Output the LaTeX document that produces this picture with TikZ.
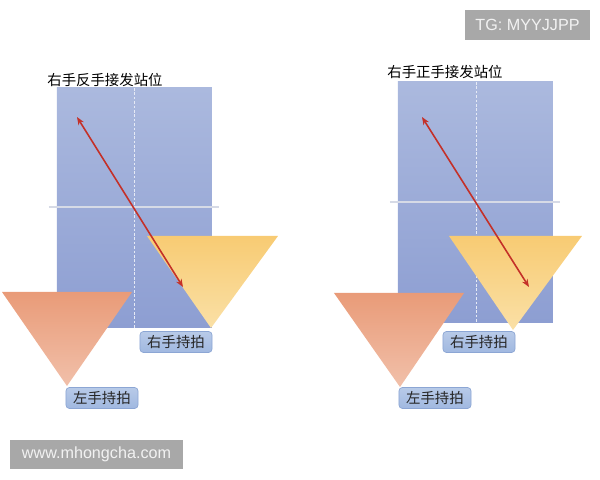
\documentclass[tikz,border=0pt]{standalone}
\usepackage{fontspec}
\setmainfont{Liberation Sans}
\newfontfamily\cjk{Noto Sans CJK SC}
\usetikzlibrary{arrows.meta}

\definecolor{tabletop}{RGB}{171,185,222}
\definecolor{tablebot}{RGB}{141,158,210}
\definecolor{nettape}{RGB}{214,218,230}
\definecolor{yeltop}{RGB}{248,203,115}
\definecolor{yelbot}{RGB}{250,224,166}
\definecolor{orgtop}{RGB}{233,155,120}
\definecolor{orgbot}{RGB}{241,192,170}
\definecolor{tagtop}{RGB}{184,202,232}
\definecolor{tagbot}{RGB}{160,184,224}
\definecolor{tagline}{RGB}{140,166,212}
\definecolor{servered}{RGB}{196,48,40}
\definecolor{markgray}{RGB}{168,168,168}

\tikzset{
  tag/.style={draw=tagline, rounded corners=2pt, top color=tagtop, bottom color=tagbot,
    minimum width=41pt, minimum height=12pt, inner sep=0pt,
    font=\cjk\fontsize{8.2}{9}\selectfont, text=black!85},
  heading/.style={anchor=west, inner sep=0pt, font=\cjk\fontsize{8.2}{9}\selectfont},
  serve/.style={servered, line width=0.9pt, {Stealth[length=4.5pt,width=3.5pt]}-{Stealth[length=4.5pt,width=3.5pt]}},
  midline/.style={white!70!tabletop, line width=0.3pt, dash pattern=on 1.5pt off 1pt},
  stamp/.style={fill=markgray, text=white!95!black, inner sep=0pt, font=\fontsize{9.2}{10}\selectfont}
}

\begin{document}
\begin{tikzpicture}[x=0.02cm,y=-0.02cm]
  \useasboundingbox (0,0) rectangle (600,480);

  % left: backhand receive
  \shade[top color=tabletop, bottom color=tablebot] (57,88) rectangle (212,328);
  \draw[midline] (134,88) -- (134,328);
  \draw[nettape, line width=1.2pt] (49,207) -- (219,207);
  \node[heading] (h1) at (47,80) {右手反手接发站位};

  \shade[top color=yeltop, bottom color=yelbot] (147,236) -- (278,236) -- (211,328) -- cycle;
  \shade[top color=orgtop, bottom color=orgbot] (2,292) -- (132,292) -- (67,386) -- cycle;

  \coordinate (a1) at (77,117);
  \coordinate (b1) at (183,287);
  \draw[serve] (a1) -- (b1);

  \node[tag] (r1) at (176,342) {右手持拍};
  \node[tag] (l1) at (102,398) {左手持拍};

  % right: forehand receive
  \shade[top color=tabletop, bottom color=tablebot] (398,82) rectangle (553,323);
  \draw[midline] (476,82) -- (476,323);
  \draw[nettape, line width=1.2pt] (390,202) -- (560,202);
  \node[heading] (h2) at (387,72) {右手正手接发站位};

  \shade[top color=yeltop, bottom color=yelbot] (449,236) -- (582,236) -- (513,330) -- cycle;
  \shade[top color=orgtop, bottom color=orgbot] (334,293) -- (464,293) -- (400,387) -- cycle;

  \coordinate (a2) at (422,117);
  \coordinate (b2) at (529,287);
  \draw[serve] (a2) -- (b2);

  \node[tag] (r2) at (479,342) {右手持拍};
  \node[tag] (l2) at (435,398) {左手持拍};

  % marks
  \node[stamp, minimum width=71pt, minimum height=17pt] (tg) at (527.5,25) {TG: MYYJJPP};
  \node[stamp, minimum width=98pt, minimum height=16.5pt] (www) at (96.5,454.5) {www.mhongcha.com};
\end{tikzpicture}
\end{document}
